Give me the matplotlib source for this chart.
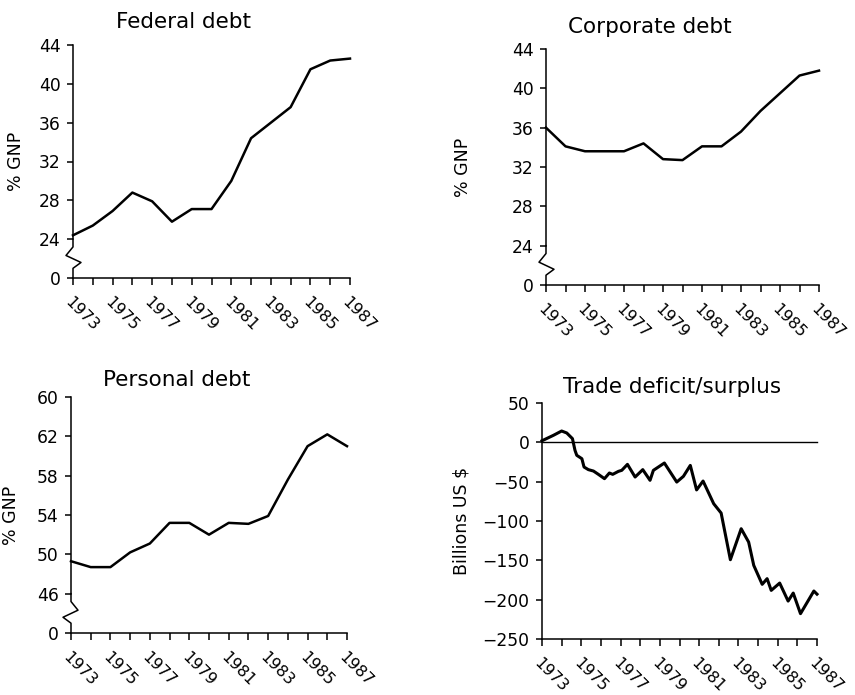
import matplotlib
matplotlib.use("Agg")
import matplotlib.pyplot as plt

# Annual debt series, % of GNP
years = list(range(1973, 1988))
federal = [24.4, 25.4, 26.9, 28.8, 27.9, 25.8, 27.1, 27.1, 30.0, 34.4,
           36.0, 37.6, 41.5, 42.4, 42.6]
corporate = [36.0, 34.1, 33.6, 33.6, 33.6, 34.4, 32.8, 32.7, 34.1, 34.1,
             35.6, 37.7, 39.5, 41.3, 41.8]
personal = [49.3, 48.7, 48.7, 50.2, 51.1, 53.2, 53.2, 52.0, 53.2, 53.1,
            53.9, 57.6, 61.0, 62.2, 61.0]

# Trade balance, billions US $
trade_t = [1973.0, 1973.58, 1974.0, 1974.26, 1974.55, 1974.68, 1974.77,
           1975.03, 1975.14, 1975.36, 1975.62, 1975.87, 1976.18, 1976.43,
           1976.6, 1976.89, 1977.06, 1977.35, 1977.74, 1978.13, 1978.5,
           1978.67, 1979.23, 1979.86, 1980.2, 1980.55, 1980.87, 1981.2,
           1981.74, 1982.12, 1982.59, 1983.14, 1983.52, 1983.78, 1984.21,
           1984.46, 1984.67, 1985.1, 1985.53, 1985.79, 1986.16, 1986.84,
           1987.0]
trade_val = [2, 8.9, 14.4, 11.9, 4.7, -10.2, -16.5, -20.8, -31.4, -34.7,
             -36.5, -40.7, -46.2, -39.0, -40.7, -36.9, -35.6, -28.0, -44.1,
             -34.7, -48.3, -35.6, -26.3, -50.5, -43.2, -29.3, -60.5, -49.2,
             -78.0, -89.9, -149.2, -109.8, -126.8, -156.4, -180.5, -173.3,
             -188.2, -178.9, -201.8, -191.6, -217.8, -189.0, -193.0]

year_labels = [str(y) if (y - 1973) % 2 == 0 else "" for y in years]

W, H = 855, 695
fig = plt.figure(figsize=(W / 100, H / 100), dpi=100)
fig.patch.set_facecolor("white")

TICK_FS = 12.3
TITLE_FS = 15.5
LABEL_FS = 12.5


def make_axes(left, right, top, bottom):
    # pixel box -> figure fraction
    ax = fig.add_axes([left / W, 1 - bottom / H, (right - left) / W,
                       (bottom - top) / H])
    for side in ("top", "right"):
        ax.spines[side].set_visible(False)
    for side in ("left", "bottom"):
        ax.spines[side].set_linewidth(1.1)
    ax.tick_params(axis="y", direction="out", length=4, width=1.1,
                   pad=5, labelsize=TICK_FS)
    ax.tick_params(axis="x", direction="out", length=5, width=1.1, pad=7)
    ax.set_xlim(1973, 1987)
    ax.set_xticks(years)
    ax.set_xticklabels(year_labels, rotation=-45, ha="left", va="top",
                       rotation_mode="anchor", fontsize=11.5)
    return ax


def draw_break(ax, lo, hi, width_px, flip=False):
    # zigzag on the y spine between lo (drawn as 0) and hi
    ax.spines["left"].set_bounds(hi, ax.get_ylim()[1])
    d1, d2 = -7 / width_px, 8 / width_px
    if flip:
        d1, d2 = -d1, -d2
    span = hi - lo
    xs = [0, 0, d1, d2, 0, 0]
    ys = [hi, hi - 0.2 * span, hi - 0.42 * span, hi - 0.6 * span,
          hi - 0.75 * span, lo]
    ax.plot(xs, ys, color="black", lw=1.1, clip_on=False,
            transform=ax.get_yaxis_transform())


def set_ylabel(ax, text, offset_px, width_px):
    ax.set_ylabel(text, fontsize=LABEL_FS)
    ax.yaxis.set_label_coords(-offset_px / width_px, 0.5)


# Federal debt
ax1 = make_axes(73, 350, 45, 278)
ax1.set_ylim(20, 44)
ax1.set_yticks([20, 24, 28, 32, 36, 40, 44])
ax1.set_yticklabels(["0", "24", "28", "32", "36", "40", "44"])
ax1.plot(years, federal, color="black", lw=1.8, clip_on=False)
draw_break(ax1, 20, 24, 277)
set_ylabel(ax1, "% GNP", 48, 277)
fig.text(183 / W, 1 - 22 / H, "Federal debt", fontsize=TITLE_FS,
         ha="center", va="center")

# Corporate debt
ax2 = make_axes(546, 819, 49, 285)
ax2.set_ylim(20, 44)
ax2.set_yticks([20, 24, 28, 32, 36, 40, 44])
ax2.set_yticklabels(["0", "24", "28", "32", "36", "40", "44"])
ax2.plot(years, corporate, color="black", lw=1.8, clip_on=False)
draw_break(ax2, 20, 24, 273)
set_ylabel(ax2, "% GNP", 74, 273)
fig.text(650 / W, 1 - 27 / H, "Corporate debt", fontsize=TITLE_FS,
         ha="center", va="center")

# Personal debt
ax3 = make_axes(71, 347, 397, 633)
ax3.set_ylim(42, 66)
ax3.set_yticks([42, 46, 50, 54, 58, 62, 66])
ax3.set_yticklabels(["0", "46", "50", "54", "58", "62", "60"])
ax3.plot(years, personal, color="black", lw=1.8, clip_on=False)
draw_break(ax3, 42, 46, 276, flip=True)
set_ylabel(ax3, "% GNP", 51, 276)
fig.text(177 / W, 1 - 380 / H, "Personal debt", fontsize=TITLE_FS,
         ha="center", va="center")

# Trade deficit/surplus
ax4 = make_axes(542, 817, 403, 639)
ax4.set_ylim(-250, 50)
ax4.set_yticks([50, 0, -50, -100, -150, -200, -250])
ax4.plot([1973, 1987], [0, 0], color="black", lw=1.0, clip_on=False)
ax4.plot(trade_t, trade_val, color="black", lw=2.2, clip_on=False)
set_ylabel(ax4, "Billions US $", 72, 275)
fig.text(672 / W, 1 - 387 / H, "Trade deficit/surplus", fontsize=TITLE_FS,
         ha="center", va="center")

fig.savefig("out.png", dpi=100, facecolor="white")
